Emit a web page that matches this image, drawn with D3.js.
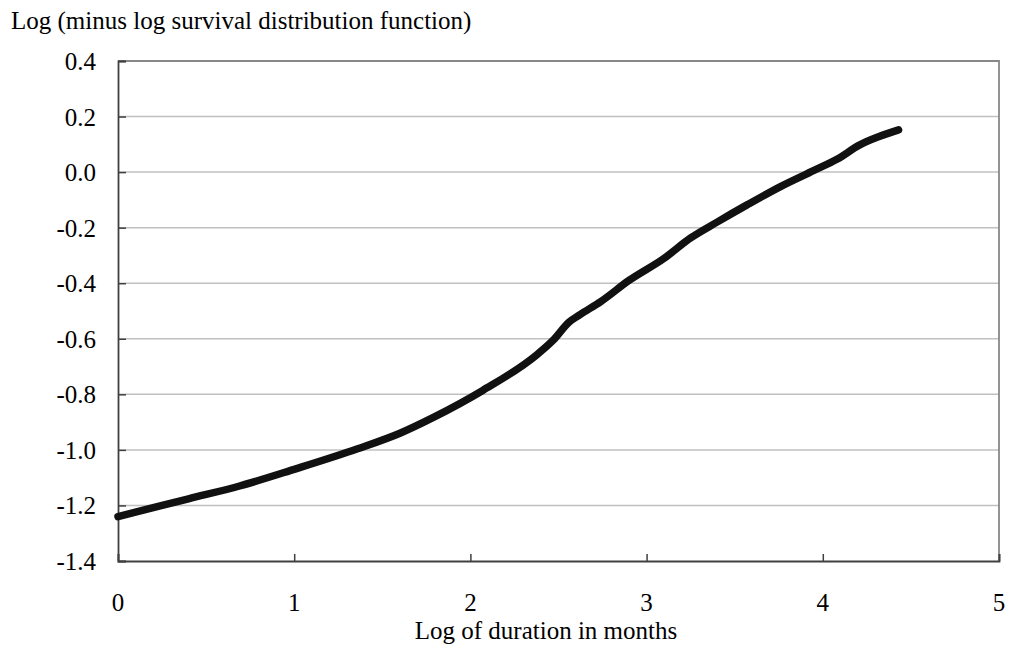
<!DOCTYPE html>
<html>
<head>
<meta charset="utf-8">
<script src="https://cdn.jsdelivr.net/npm/d3@7"></script>
<style>
  body { margin: 0; background: #fff; }
  svg { display: block; }
  text { font-family: "Liberation Serif", "Times New Roman", serif; fill: #000; }
</style>
</head>
<body>
<svg id="chart" width="1010" height="646"></svg>
<script>
// ---- data ----
const logDuration = [0, 0.2, 0.4, 0.69, 1.0, 1.36, 1.6, 1.79, 2.07, 2.38, 2.47, 2.56, 2.62, 2.74, 2.9, 3.1, 3.25, 3.4, 3.57, 3.76, 3.95, 4.08, 4.21, 4.32, 4.43];
const logMinusLogSurvival = [-1.24, -1.208, -1.176, -1.13, -1.07, -0.996, -0.94, -0.883, -0.786, -0.656, -0.605, -0.54, -0.514, -0.466, -0.39, -0.31, -0.237, -0.18, -0.118, -0.052, 0.006, 0.046, 0.098, 0.128, 0.152];
const xTicks = [0, 1, 2, 3, 4, 5];
const yTicks = [0.4, 0.2, 0.0, -0.2, -0.4, -0.6, -0.8, -1.0, -1.2, -1.4];
const yTitle = "Log (minus log survival distribution function)";
const xTitle = "Log of duration in months";

(function () {
  // ---- layout ----
  const svg = d3.select("#chart");
  const mLeft = 118, mRight = 999, mTop = 61, mBottom = 561;
  const fs = 25;

  const x = d3.scaleLinear().domain([0, 5]).range([mLeft, mRight]);
  const y = d3.scaleLinear().domain([-1.4, 0.4]).range([mBottom, mTop]);

  // gridlines
  svg.append("g").selectAll("line")
    .data(yTicks.filter(d => d > -1.4 && d < 0.4))
    .join("line")
    .attr("x1", mLeft).attr("x2", mRight)
    .attr("y1", d => y(d)).attr("y2", d => y(d))
    .attr("stroke", "#c0c0c0").attr("stroke-width", 1.5);

  // top & right border
  svg.append("path")
    .attr("d", `M${mLeft},${y(0.4)}H${mRight}V${mBottom}`)
    .attr("fill", "none").attr("stroke", "#888").attr("stroke-width", 1.8);

  // left axis
  const yAxis = d3.axisLeft(y).tickValues(yTicks).tickSize(-8).tickFormat("");
  const gy = svg.append("g").attr("transform", `translate(${mLeft},0)`).call(yAxis);
  gy.select(".domain").attr("stroke", "#404040").attr("stroke-width", 1.8);
  gy.selectAll(".tick line").attr("stroke", "#404040").attr("stroke-width", 1.5);

  // y labels
  svg.append("g").selectAll("text")
    .data(yTicks).join("text")
    .attr("x", 96).attr("y", d => y(d) + 9)
    .attr("text-anchor", "end").attr("font-size", fs)
    .text(d => d3.format(".1f")(d).replace("\u2212", "-"));

  // bottom axis
  const xAxis = d3.axisBottom(x).tickValues(xTicks).tickSize(-7).tickFormat("");
  const gx = svg.append("g").attr("transform", `translate(0,${mBottom})`).call(xAxis);
  gx.select(".domain").attr("stroke", "#404040").attr("stroke-width", 1.8);
  gx.selectAll(".tick line").attr("stroke", "#404040").attr("stroke-width", 1.5);

  // x labels
  svg.append("g").selectAll("text")
    .data(xTicks).join("text")
    .attr("x", d => x(d)).attr("y", 611)
    .attr("text-anchor", "middle").attr("font-size", fs)
    .text(d => d);

  // line
  const pts = logDuration.map((d, i) => [d, logMinusLogSurvival[i]]);
  svg.append("path")
    .datum(pts)
    .attr("d", d3.line().x(d => x(d[0])).y(d => y(d[1])).curve(d3.curveMonotoneX))
    .attr("fill", "none").attr("stroke", "#111").attr("stroke-width", 7.5)
    .attr("stroke-linecap", "round").attr("stroke-linejoin", "round");

  // titles
  svg.append("text").attr("x", 11).attr("y", 29).attr("font-size", fs).text(yTitle);
  svg.append("text").attr("x", 546).attr("y", 639)
    .attr("text-anchor", "middle").attr("font-size", fs).text(xTitle);
})();
</script>
</body>
</html>
